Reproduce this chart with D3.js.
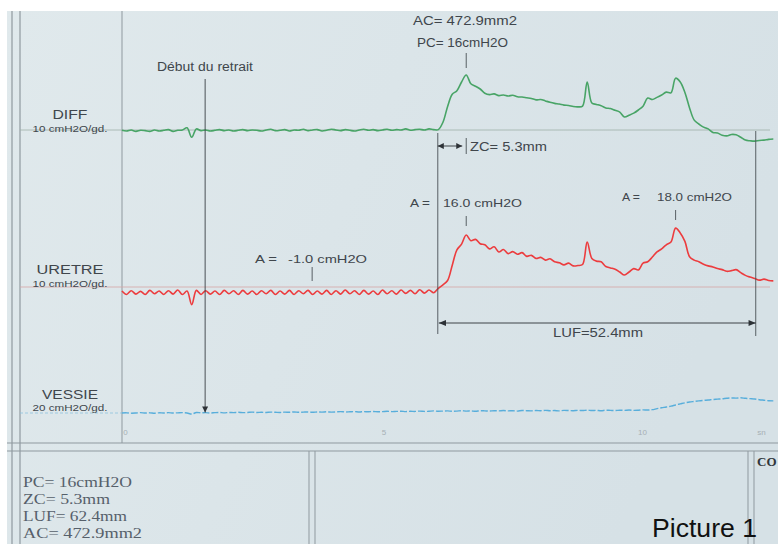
<!DOCTYPE html>
<html><head><meta charset="utf-8">
<script src="https://cdn.jsdelivr.net/npm/d3@7"></script>
<style>body{margin:0;background:#fff}svg{display:block}</style>
</head><body><svg id="c" width="778" height="544"></svg>
<script>
// ---------- data ----------
const channelNames = ["DIFF", "URETRE", "VESSIE"];
const channelGains = ["10 cmH2O/gd.", "10 cmH2O/gd.", "20 cmH2O/gd."];
const sampleStart = -0.06;   // s, first sample
const sampleStep = 0.09;     // s between samples

const diffValues = [
 0.2,0.0,0.3,-0.1,0.2,0.1,-0.1,0.3,0.0,0.2,0.4,-0.1,0.2,0.3,0.9,-1.8,0.6,0.1,0.3,0.0,
 0.2,0.4,0.1,0.3,0.0,0.2,0.4,0.1,0.3,0.2,0.0,0.3,0.5,0.1,0.2,0.4,0.0,0.3,0.2,0.5,
 0.1,0.3,0.4,0.0,0.2,0.5,0.3,0.1,0.4,0.2,0.0,0.3,0.5,0.2,0.4,0.1,0.3,0.5,0.2,0.4,
 0.3,0.6,0.2,0.4,0.5,0.3,0.6,0.4,
 0.4,2.5,7.0,10.5,11.5,14.0,16.0,13.5,12.8,12.0,10.8,10.4,10.6,10.1,10.3,10.0,10.2,9.8,9.7,9.5,
 9.3,8.9,9.0,8.6,8.2,7.9,7.7,7.4,7.3,7.0,6.9,7.1,14.0,8.0,7.6,7.2,6.6,6.4,5.9,5.4,
 4.0,4.5,5.1,6.0,7.1,9.4,9.0,9.6,10.3,11.1,10.9,15.1,14.0,11.0,6.6,3.1,2.0,1.1,0.6,-0.4,
 -0.6,-1.2,-1.4,-1.0,-1.1,-1.8,-2.6,-2.8,-2.9,-2.7,-2.6,-2.4,-2.3
];
const uretreValues = [
 -0.6,-1.6,-0.5,-1.5,-0.7,-1.6,-0.4,-1.4,-0.6,-1.6,
 -0.5,-1.5,-0.3,-1.6,-0.6,-4.6,-0.4,-1.6,-0.5,-1.5,
 -0.6,-1.6,-0.4,-1.4,-0.5,-1.6,-0.4,-1.5,-0.6,-1.6,
 -0.5,-1.4,-0.4,-1.6,-0.6,-1.5,-0.4,-1.6,-0.5,-1.4,
 -0.4,-1.6,-0.6,-1.5,-0.4,-1.6,-0.5,-1.5,-0.3,-1.4,
 -0.5,-1.6,-0.4,-1.5,-0.6,-1.6,-0.3,-1.4,-0.5,-1.5,
 -0.3,-1.3,-0.4,-1.4,-0.2,-1.2,-0.3,-1.1,
 0.2,1.2,2.5,7.0,11.5,13.2,15.9,14.2,14.6,13.3,13.0,11.8,12.4,10.9,11.6,10.4,11.0,10.2,10.7,9.6,
 9.9,9.0,9.3,8.5,8.9,8.0,7.7,7.1,7.6,6.8,6.9,7.2,13.8,9.0,8.2,8.0,6.6,6.2,5.8,5.0,
 4.1,5.0,6.0,5.6,7.6,8.0,9.4,10.9,11.8,13.0,13.8,17.9,16.5,14.0,9.5,8.5,8.0,7.3,6.8,6.5,
 6.0,5.7,5.2,5.4,5.7,4.8,4.0,3.5,3.1,2.6,2.9,2.5,2.4
];
const vessieValues = [
 0.0,0.1,-0.1,0.0,0.2,0.0,0.1,-0.1,0.1,0.0,
 0.2,0.0,0.1,0.2,0.0,-0.6,0.3,0.1,0.2,0.0,
 0.2,0.3,0.1,0.3,0.2,0.4,0.2,0.3,0.5,0.3,
 0.4,0.3,0.5,0.4,0.3,0.5,0.4,0.6,0.4,0.5,
 0.6,0.4,0.6,0.5,0.7,0.5,0.6,0.8,0.6,0.7,
 0.8,0.6,0.8,0.7,0.9,0.7,0.8,1.0,0.8,0.9,
 1.0,0.8,1.0,0.9,1.1,0.9,1.0,1.2,1.0,1.1,
 1.2,1.0,1.1,1.3,1.1,1.2,1.0,1.3,1.2,1.1,
 1.3,1.2,1.4,1.2,1.3,1.1,1.4,1.3,1.2,1.4,
 1.3,1.5,1.3,1.4,1.2,1.5,1.4,1.3,1.5,1.4,
 1.6,1.4,1.5,1.3,1.6,1.5,1.4,1.6,1.5,1.7,
 1.5,1.6,1.8,1.7,1.9,2.5,3.0,3.4,3.9,4.6,
 5.2,5.8,6.3,6.6,6.9,7.2,7.4,7.7,7.9,8.1,
 8.4,8.6,8.5,8.7,8.4,8.2,8.0,7.6,7.3,7.0,6.9
];
const timeTicks = [0, 5, 10, 12.3];
const timeTickLabels = ["0", "5", "10", "sn"];

// events (seconds)
const tRetrait = 1.55;
const tClosureStart = 6.05;
const tPeak1 = 6.6;
const tBaselineMark = 3.62;
const tPeak2 = 10.65;
const tClosureEnd = 12.2;

const retraitLabel = "Début du retrait";
const acLabel = "AC= 472.9mm2";
const pcLabel = "PC= 16cmH2O";
const zcLabel = "ZC= 5.3mm";
const lufLabel = "LUF=52.4mm";
const ampLabels = ["-1.0 cmH2O", "16.0 cmH2O", "18.0 cmH2O"];
const summaryLines = ["PC= 16cmH2O", "ZC= 5.3mm", "LUF= 62.4mm", "AC= 472.9mm2"];

// ---------- drawing ----------
const svg = d3.select("#c");
const W = 778, H = 544;
const ink = "#40464c", rule = "#8f999f";
const sans = "'Liberation Sans', Arial, sans-serif";
const serif = "'Liberation Serif', 'Times New Roman', serif";

svg.append("rect").attr("width", W).attr("height", H).attr("fill", "#fff");
const bgGrad = svg.append("defs").append("linearGradient").attr("id","bg").attr("x1",0).attr("x2",1).attr("y1",0).attr("y2",0.3);
bgGrad.append("stop").attr("offset",0).attr("stop-color","#e0e9ec");
bgGrad.append("stop").attr("offset",1).attr("stop-color","#d6e1e6");
svg.append("rect").attr("x", 7).attr("y", 11).attr("width", W - 7).attr("height", H - 11).attr("fill", "url(#bg)");

const defs = svg.select("defs");
defs.append("marker").attr("id", "arr").attr("viewBox", "0 0 10 10").attr("refX", 10).attr("refY", 5)
    .attr("markerWidth", 10).attr("markerHeight", 6).attr("markerUnits", "userSpaceOnUse")
    .attr("orient", "auto-start-reverse")
    .append("path").attr("d", "M0,0 L10,5 L0,10 Z").attr("fill", "#2d3237");
defs.append("marker").attr("id", "arrBig").attr("viewBox", "0 0 12 10").attr("refX", 12).attr("refY", 5)
    .attr("markerWidth", 12).attr("markerHeight", 6).attr("markerUnits", "userSpaceOnUse")
    .attr("orient", "auto-start-reverse")
    .append("path").attr("d", "M0,0 L12,5 L0,10 Z").attr("fill", "#2d3237");

const x = d3.scaleLinear().domain([0, 10]).range([125, 642]);
const yDiff = d3.scaleLinear().domain([0, 16]).range([131, 75]);
const yUre = d3.scaleLinear().domain([0, 18]).range([289, 289 - 18 * 3.4]);
const yVes = d3.scaleLinear().domain([0, 20]).range([413, 378]);
const tOf = i => sampleStart + i * sampleStep;

// frame lines
const frame = svg.append("g").attr("stroke", rule).attr("fill", "none");
[12, 20].forEach(v => frame.append("line").attr("x1", v).attr("x2", v).attr("y1", 11).attr("y2", H).attr("stroke-width", 1.2));
frame.append("line").attr("x1", 122).attr("x2", 122).attr("y1", 11).attr("y2", 443);
frame.append("line").attr("x1", 7).attr("x2", W).attr("y1", 443).attr("y2", 443);
frame.append("line").attr("x1", 7).attr("x2", W).attr("y1", 451).attr("y2", 451);
[309, 315, 748, 754].forEach(v => frame.append("line").attr("x1", v).attr("x2", v).attr("y1", 451).attr("y2", H));

// time axis labels
const axis = d3.axisBottom(x).tickValues(timeTicks).tickFormat((d, i) => timeTickLabels[i]).tickSize(0);
const ag = svg.append("g").attr("transform", "translate(0,426)").call(axis);
ag.select(".domain").remove();
ag.selectAll("text").attr("font-family", sans).attr("font-size", 8).attr("fill", "#a7b0b5");

// reference (zero) lines
const zeroLines = [[yDiff(0) - 1, "#9fb0a8"], [yUre(0) - 2, "#d6a4a4"], [yVes(0), "#8ec3de"]];
zeroLines.forEach(([yy, c], k) => {
  svg.append("line").attr("x1", 20).attr("x2", k === 2 ? 122 : 770).attr("y1", yy).attr("y2", yy)
    .attr("stroke", c).attr("stroke-width", 0.8).attr("stroke-dasharray", k === 2 ? "3,2" : null);
});

// channel labels
const labelY = [[119, 132], [274, 287], [399, 411]];
const nameWidths = [35, 67, 56];
channelNames.forEach((n, k) => {
  svg.append("text").attr("x", 70).attr("y", labelY[k][0]).attr("text-anchor", "middle")
    .attr("font-family", sans).attr("font-size", 12).attr("fill", ink)
    .attr("textLength", nameWidths[k]).attr("lengthAdjust", "spacingAndGlyphs").text(n);
  svg.append("text").attr("x", 70).attr("y", labelY[k][1]).attr("text-anchor", "middle")
    .attr("font-family", sans).attr("font-size", 9).attr("fill", ink)
    .attr("textLength", 75).attr("lengthAdjust", "spacingAndGlyphs").text(channelGains[k]);
});

// traces
const curve = d3.curveCatmullRom.alpha(0.5);
const lineOf = ys => d3.line().x((d, i) => x(tOf(i))).y(d => ys(d)).curve(curve);
svg.append("path").datum(diffValues).attr("d", lineOf(yDiff)).attr("fill", "none")
  .attr("stroke", "#48a466").attr("stroke-width", 1.6).attr("stroke-linejoin", "round");
svg.append("path").datum(uretreValues).attr("d", lineOf(yUre)).attr("fill", "none")
  .attr("stroke", "#ec3c3e").attr("stroke-width", 1.6).attr("stroke-linejoin", "round");
svg.append("path").datum(vessieValues).attr("d", lineOf(yVes)).attr("fill", "none")
  .attr("stroke", "#58aedb").attr("stroke-width", 1.4).attr("stroke-dasharray", "7,2");

// annotations
const ann = svg.append("g").attr("stroke", "#4a5056").attr("stroke-width", 0.9).attr("fill", "none");
function txt(s, xx, yy, w, size) {
  const t = svg.append("text").attr("x", xx).attr("y", yy).attr("font-family", sans)
    .attr("font-size", size || 11).attr("fill", ink).text(s);
  if (w) t.attr("textLength", w).attr("lengthAdjust", "spacingAndGlyphs");
  return t;
}
txt(retraitLabel, 157, 71, 96, 12);
ann.append("line").attr("x1", x(tRetrait)).attr("x2", x(tRetrait)).attr("y1", 79).attr("y2", yVes(0.3))
  .attr("marker-end", "url(#arr)").attr("stroke", "#3a4045");
txt(acLabel, 413, 25, 104, 12);
txt(pcLabel, 417, 47, 91, 12);
ann.append("line").attr("x1", x(tPeak1)).attr("x2", x(tPeak1)).attr("y1", 53).attr("y2", 68);
ann.append("line").attr("x1", x(tClosureStart)).attr("x2", x(tClosureStart)).attr("y1", 133).attr("y2", 334);
ann.append("line").attr("x1", x(tClosureEnd)).attr("x2", x(tClosureEnd)).attr("y1", 131).attr("y2", 336);
ann.append("line").attr("x1", x(tClosureStart)).attr("x2", x(tPeak1) - 4).attr("y1", 146).attr("y2", 146)
  .attr("stroke", "#2d3237").attr("marker-start", "url(#arr)").attr("marker-end", "url(#arr)");
ann.append("line").attr("x1", x(tPeak1)).attr("x2", x(tPeak1)).attr("y1", 138).attr("y2", 154);
txt(zcLabel, 470, 151, 77, 12);
txt("A =", 255, 263, 22, 11);
txt(ampLabels[0], 288, 263, 79, 11);
ann.append("line").attr("x1", x(tBaselineMark)).attr("x2", x(tBaselineMark)).attr("y1", 267).attr("y2", 281);
txt("A =", 410, 207, 20, 11);
txt(ampLabels[1], 443, 207, 79, 11);
ann.append("line").attr("x1", x(tPeak1)).attr("x2", x(tPeak1)).attr("y1", 216).attr("y2", 226);
txt("A =", 622, 201, 18, 11);
txt(ampLabels[2], 657, 201, 75, 11);
ann.append("line").attr("x1", x(tPeak2)).attr("x2", x(tPeak2)).attr("y1", 210).attr("y2", 220);
ann.append("line").attr("x1", x(tClosureStart) + 1).attr("x2", x(tClosureEnd)).attr("y1", 323).attr("y2", 323)
  .attr("stroke", "#2d3237").attr("marker-start", "url(#arrBig)").attr("marker-end", "url(#arrBig)");
txt(lufLabel, 553, 337, 90, 12);

// summary box
summaryLines.forEach((s, k) => {
  svg.append("text").attr("x", 23).attr("y", 487 + k * 17).attr("font-family", serif)
    .attr("font-size", 15).attr("fill", "#56606a")
    .attr("textLength", [109, 87, 104, 119][k]).attr("lengthAdjust", "spacingAndGlyphs").text(s);
});
svg.append("text").attr("x", 757).attr("y", 466).attr("font-family", serif).attr("font-weight", "bold")
  .attr("font-size", 13).attr("fill", "#30363b").text("CO");
svg.append("text").attr("x", 652).attr("y", 537).attr("font-family", sans).attr("font-size", 26)
  .attr("fill", "#111").attr("textLength", 105).attr("lengthAdjust", "spacingAndGlyphs").text("Picture 1");
</script></body></html>
